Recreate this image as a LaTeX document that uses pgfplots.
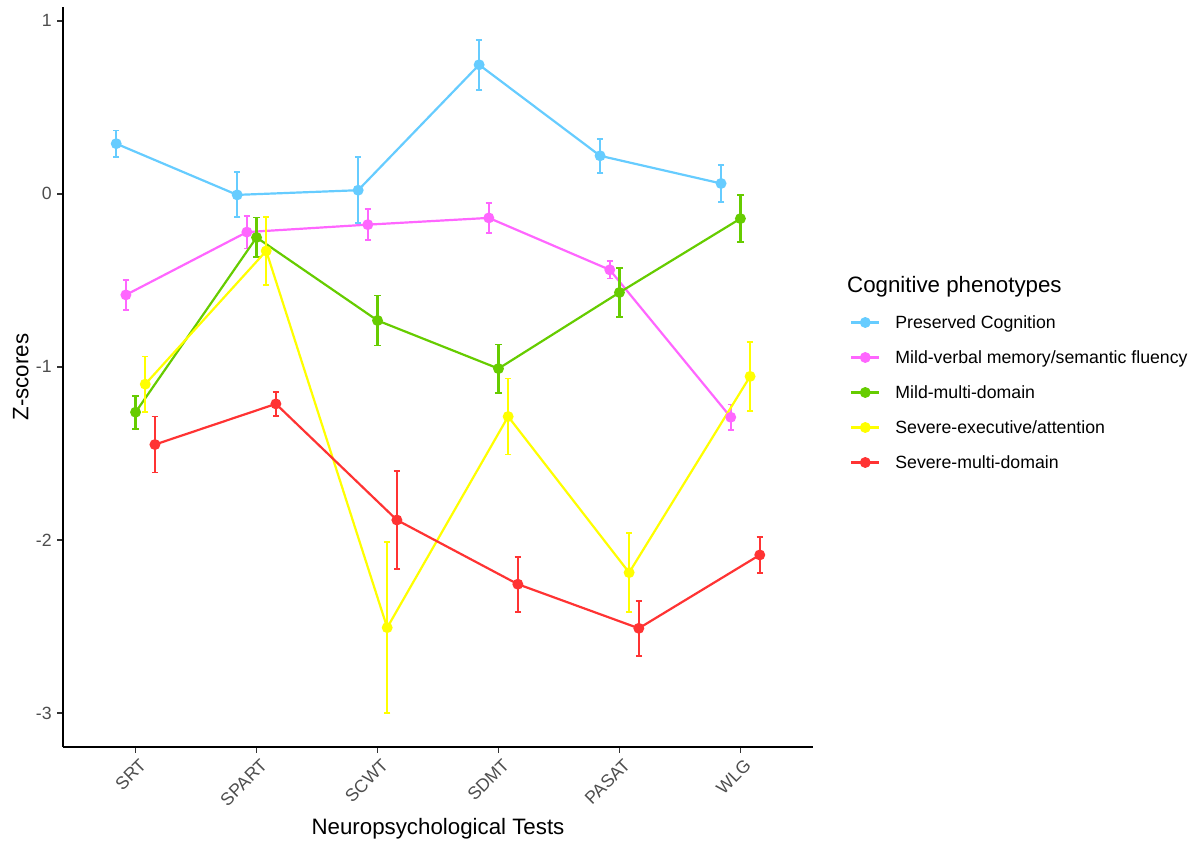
\documentclass[border=0pt]{standalone}
\usepackage{fontspec}
\setmainfont{Liberation Sans}
\usepackage{pgfplots}
\pgfplotsset{compat=1.18}
\usepackage{pgfplotstable}

\definecolor{cblue}{HTML}{66CCFF}
\definecolor{cpink}{HTML}{FF66FF}
\definecolor{cgreen}{HTML}{66CC00}
\definecolor{cyellow}{HTML}{FFFF00}
\definecolor{cred}{HTML}{FF3333}
\definecolor{tl}{HTML}{4D4D4D}
\definecolor{tk}{HTML}{333333}

\newcommand\tfont{\fontsize{17.7bp}{21bp}\selectfont}
\newcommand\lfont{\fontsize{22.3bp}{26bp}\selectfont}

% x = category index + dodge offset, y = mean z-score, e = error half-width
\pgfplotstableread{
x y e
-0.16 0.290 0.076
0.84 -0.006 0.130
1.84 0.021 0.190
2.84 0.746 0.145
3.84 0.220 0.099
4.84 0.060 0.105
}\preserved
\pgfplotstableread{
x y e
-0.08 -0.584 0.087
0.92 -0.221 0.095
1.92 -0.178 0.091
2.92 -0.139 0.088
3.92 -0.439 0.050
4.92 -1.291 0.073
}\mildverbal
\pgfplotstableread{
x y e
0 -1.262 0.095
1 -0.252 0.115
2 -0.732 0.144
3 -1.010 0.139
4 -0.570 0.143
5 -0.143 0.137
}\mildmulti
\pgfplotstableread{
x y e
0.08 -1.100 0.160
1.08 -0.330 0.198
2.08 -2.507 0.495
3.08 -1.287 0.220
4.08 -2.189 0.228
5.08 -1.055 0.200
}\sevexec
\pgfplotstableread{
x y e
0.16 -1.449 0.162
1.16 -1.214 0.069
2.16 -1.885 0.281
3.16 -2.256 0.159
4.16 -2.511 0.159
5.16 -2.087 0.105
}\sevmulti

\pgfplotsset{
  series/.style={color=#1, line width=2.2bp, mark=*, mark size=4.3bp, mark options={solid},
    error bars/.cd, y dir=both, y explicit,
    error bar style={line width=2.2bp, color=#1},
    error mark=-,
    error mark options={rotate=90, color=#1, mark size=3.2bp, line width=1.8bp}},
}

\begin{document}
\begin{tikzpicture}
\begin{axis}[
  name=ax, at={(0,0)}, anchor=south west,
  scale only axis, width=750bp, height=740bp,
  xmin=-0.6, xmax=5.6, ymin=-3.197, ymax=1.08,
  axis lines*=left,
  axis line style={line width=1.6bp, black},
  clip=false,
  xtick={0,1,2,3,4,5},
  xticklabels={SRT,SPART,SCWT,SDMT,PASAT,WLG},
  ytick={-3,-2,-1,0,1},
  yticklabels={-3,-2,-1,0,1},
  tick align=outside,
  major tick length=5.5bp,
  tick style={line width=1.6bp, color=tk},
  ticklabel style={font=\tfont, text=tl},
  yticklabel style={anchor=east, inner sep=0pt, xshift=-5.6bp},
  xticklabel style={inner sep=0pt, xshift=3bp, yshift=-5bp, rotate=45, anchor=north east},
  xlabel={Neuropsychological Tests},
  ylabel={Z-scores},
  label style={font=\lfont, text=black},
  xlabel style={at={(axis description cs:0.5,-0.1176)}, anchor=base},
  ylabel style={at={(axis description cs:-0.04627,0.5)}, anchor=base},
  legend cell align=left,
  legend image code/.code={%
    \draw[mark repeat=2, mark phase=2] plot coordinates {(0bp,0bp) (14bp,0bp) (28bp,0bp)};
    \path (43bp,0bp);},
  legend style={at={(axis description cs:1.04933,0.58743)}, anchor=north west,
    draw=none, fill=none, inner xsep=0pt, inner ysep=0pt, row sep=15bp,
    font=\tfont, nodes={inner sep=0pt, text height=16bp, text depth=4bp}},
]
\addplot[series=cblue] table[x=x, y=y, y error=e] {\preserved};
\addlegendentry{Preserved Cognition}
\addplot[series=cpink] table[x=x, y=y, y error=e] {\mildverbal};
\addlegendentry{Mild-verbal memory/semantic fluency}
\addplot[series=cgreen] table[x=x, y=y, y error=e] {\mildmulti};
\addlegendentry{Mild-multi-domain}
\addplot[series=cyellow] table[x=x, y=y, y error=e] {\sevexec};
\addlegendentry{Severe-executive/attention}
\addplot[series=cred] table[x=x, y=y, y error=e] {\sevmulti};
\addlegendentry{Severe-multi-domain}
\node[anchor=base west, font=\lfont, inner sep=0pt] at (axis description cs:1.04533,0.61446) {Cognitive phenotypes};
\end{axis}
\pgfresetboundingbox
\path[use as bounding box] ([xshift=-63bp,yshift=-94bp]ax.south west) rectangle ([xshift=1131bp,yshift=747bp]ax.south west);
\end{tikzpicture}
\end{document}
